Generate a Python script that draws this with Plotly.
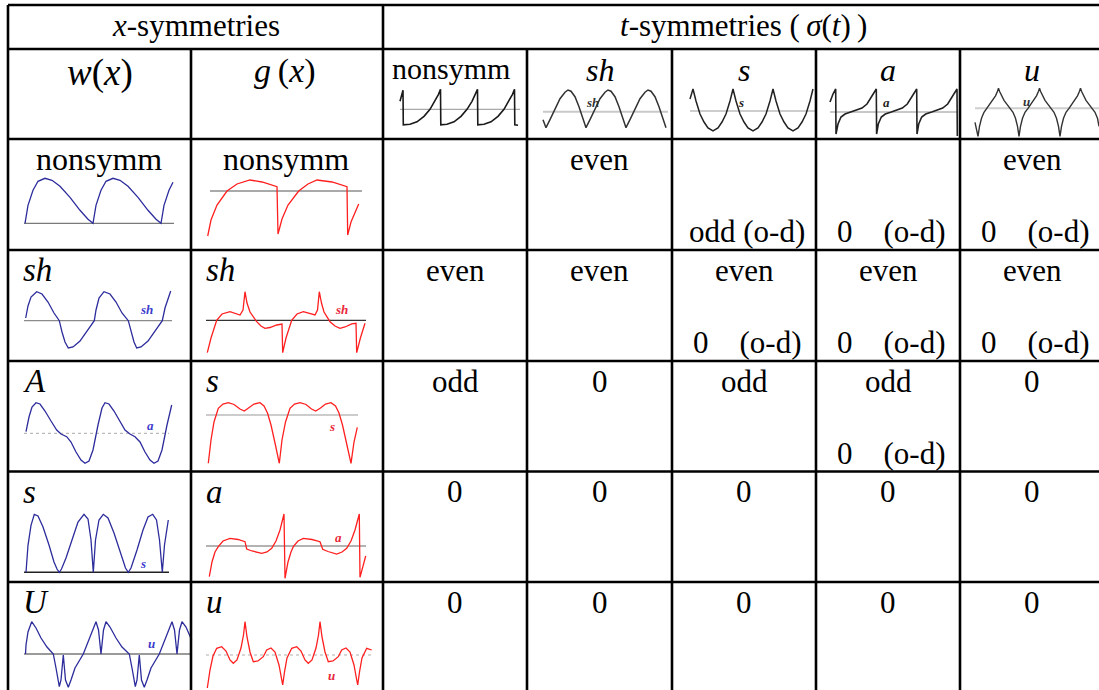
import plotly.graph_objects as go

W_PX, H_PX = 1099, 690
FONT = "Liberation Serif, Times New Roman, serif"

# ---------------- table text ----------------
X_HEAD = "<i>x</i>-symmetries"
T_HEAD = "<i>t</i>-symmetries (\u2009<i>σ</i>(<i>t</i>)\u2009)"
W_HEAD = "<i>w</i>(<i>x</i>)"
G_HEAD = "<i>g</i>\u2009(<i>x</i>)"
T_COLS = ["nonsymm", "<i>sh</i>", "<i>s</i>", "<i>a</i>", "<i>u</i>"]
W_ROWS = ["nonsymm", "<i>sh</i>", "<i>A</i>", "<i>s</i>", "<i>U</i>"]
G_ROWS = ["nonsymm", "<i>sh</i>", "<i>s</i>", "<i>a</i>", "<i>u</i>"]
OD = "0\u00a0\u00a0\u00a0\u00a0(o-d)"
CELL_TOP = [
    ["", "even", "", "", "even"],
    ["even", "even", "even", "even", "even"],
    ["odd", "0", "odd", "odd", "0"],
    ["0", "0", "0", "0", "0"],
    ["0", "0", "0", "0", "0"],
]
CELL_BOTTOM = [
    ["", "", "odd (o-d)", OD, OD],
    ["", "", OD, OD, OD],
    ["", "", "", OD, ""],
    ["", "", "", "", ""],
    ["", "", "", "", ""],
]

# ---------------- waveform sketches (x, y) ----------------
HDR_NONSYMM = [(0, 8), (3, 19), (3.3, -15.5), (4, -15.5), (10, -15), (17, -12.5), (24, -7), (30, 0), (35, 8),
               (38.5, 15), (40.5, 20), (40.8, -15.5), (47, -15), (54, -12.5), (61, -7), (67, 0), (72, 8),
               (75.5, 15), (77.5, 20), (77.8, -15.5), (84, -15), (91, -12.5), (98, -7), (104, 0), (109, 8),
               (112.5, 15), (114.5, 20), (114.8, -15.5), (118, -16)]
HDR_SH = [(0, -8), (3, -16), (7, -8), (12, 3), (17, 13), (22, 19.5), (25, 21.7), (28, 20.5), (32, 15), (36, 5),
          (39.5, -6), (43, -16), (47, -8), (52, 3), (57, 13), (62, 19.5), (65, 21.7), (68, 20.5), (72, 15),
          (76, 5), (79.5, -6), (83, -16), (87, -8), (92, 3), (97, 13), (102, 19.5), (105, 21.7), (108, 20.5),
          (112, 15), (116, 5), (119.5, -6), (123, -16)]
HDR_S = [(0, 12), (3, 22), (6, 10), (10, -3), (14, -11), (18, -17), (23, -20), (28, -17), (32, -11), (36, -3),
         (40, 10), (43, 22), (46, 10), (50, -3), (54, -11), (58, -17), (63, -20), (68, -17), (72, -11), (76, -3),
         (80, 10), (83, 22), (86, 10), (90, -3), (94, -11), (98, -17), (103, -20), (108, -17), (112, -11),
         (116, -3), (120, 10), (123, 22)]
HDR_A = [(0, 10), (3, 18), (5.7, 23), (6, -22), (8, -12), (11, -5), (15, -2), (21, 0), (27, 2), (32, 4), (37, 8),
         (41, 14), (44, 19), (46.3, 23), (46.6, -22), (48.3, -12), (51.3, -5), (55.3, -2), (61.3, 0), (67.3, 2),
         (72.3, 4), (77.3, 8), (81.3, 14), (84.3, 19), (86.7, 23), (87, -22), (88.7, -12), (91.7, -5),
         (95.7, -2), (101.7, 0), (107.7, 2), (112.7, 4), (117.7, 8), (121.7, 14), (124.7, 19), (127, 23),
         (127.3, -24)]
HDR_U = [(0, -14), (1.5, -20), (3, -28), (4.5, -18), (6.5, -10), (9, -4), (12, 0), (15, 4), (18, 8), (20.5, 12.5),
         (22.5, 17), (23.5, 20), (24.5, 17), (26.5, 12.5), (29, 8), (32, 4), (35, 0), (38, -4), (40.5, -10),
         (42.5, -18), (44, -28), (45.5, -18), (47.5, -10), (50, -4), (53, 0), (56, 4), (59, 8), (61.5, 12.5),
         (63.5, 17), (64.5, 20), (65.5, 17), (67.5, 12.5), (70, 8), (73, 4), (76, 0), (79, -4), (81.5, -10),
         (83.5, -18), (85, -28), (86.5, -18), (88.5, -10), (91, -4), (94, 0), (97, 4), (100, 8), (102.5, 12.5),
         (104.5, 17), (105.5, 20), (106.5, 17), (108.5, 12.5), (111, 8), (114, 4), (117, 0), (120, -4),
         (122.5, -10), (124, -18)]

W_NONSYMM = [(1, 0), (4, 18), (9, 33), (14, 42), (21, 45), (28, 43), (36, 37), (46, 26), (56, 13), (64, 4), (69, 0),
             (72, 18), (77, 33), (82, 42), (89, 45), (96, 43), (104, 37), (114, 26), (124, 13), (132, 4), (137, 0),
             (140, 18), (145, 33), (149, 41)]
G_NONSYMM = [(1.7, -45), (5, -29), (11, -14), (21, 0), (31, 7), (44, 11), (56, 9), (71, 4.3), (72, -43),
             (76, -28), (82, -14), (92.7, 0), (102, 7), (111, 11), (126, 9), (141, 4.3), (141.7, -44),
             (145, -31), (152.7, -13)]
W_SH = [(1.7, 2.7), (4, 14.7), (7, 23.7), (12.7, 29), (18, 26.7), (24, 18.7), (30, 7.7), (35.3, 0), (38, -11.3),
        (41, -21.3), (44.3, -27.3), (49, -26.3), (56, -20.3), (63, -10.3), (70.3, 0), (72, 10.7), (75, 22.7),
        (80, 29), (86, 26.7), (92, 18.7), (98, 7.7), (104.3, 0), (107, -11.3), (110, -21.3), (112.7, -27.3),
        (117, -26.3), (124, -20.3), (131, -10.3), (138.3, 0), (141, 12.7), (144, 22.7), (146.7, 29.7)]
G_SH = [(1.3, -32.4), (5, -17.7), (10.7, 0), (16, 6.3), (24, 8.6), (30, 6.8), (34, 5.3), (37, 10.3), (39, 28.6),
        (41, 17.3), (44, 8.3), (50.7, -1.4), (55, -5.7), (59, -8), (64, -7.2), (70.7, -4.7), (76, -3.7),
        (76.7, -32.4), (80, -17.7), (85.7, 0), (91, 6.3), (97.3, 8.6), (104, 6.8), (109, 5.3), (111.5, 10.3),
        (113.3, 28.6), (115.5, 17.3), (118, 8.3), (124, -1.4), (129, -5.7), (134, -8), (139, -6.7),
        (145.7, -3.5), (150, -3), (150.7, -32.4), (154.4, -17.7), (159, -3)]
W_A = [(2, 1.6), (5, 16.3), (8, 26.3), (12, 30.6), (16, 29.3), (21, 22.3), (27, 12.3), (32.7, 3.3), (37, -0.7),
       (42.7, -3.4), (47, -8.7), (52, -18.7), (57, -26.7), (61, -30), (65, -27.7), (69, -16.7), (74, 8.3),
       (78, 25.3), (81, 30.6), (85, 29.3), (90, 22.3), (96, 12.3), (101, 3.3), (106, -0.7), (111, -3.4),
       (116, -8.7), (121, -18.7), (126, -26.7), (130, -30), (134, -27.7), (138, -16.7), (143, 8.3),
       (147.7, 28.3)]
G_S = [(2.3, -48.3), (5, -25), (8, -7), (12.3, 6.7), (17, 11), (22.3, 12.3), (28, 10.5), (34, 6), (38.3, 4),
       (43, 7), (48, 11), (54, 12.3), (58, 9), (61.5, 2), (65, -10), (69, -28), (73.3, -48.3), (76, -25),
       (79.5, -7), (84, 6.7), (88.5, 11), (94, 12.3), (100, 10.5), (105.5, 6), (109.7, 4), (114.5, 7),
       (119.5, 11), (125, 12.3), (129.5, 9), (133, 2), (136.5, -10), (140.5, -28), (145, -48.3), (148, -27),
       (151.3, -12.3)]
W_S = [(2, 0), (4, 27), (7, 47), (10.3, 58), (14, 56.3), (19, 45.3), (25, 27.3), (30, 10.3), (33, 3.3), (35.3, 0),
       (37.5, 3.3), (42, 14.3), (48, 32.3), (54, 50.3), (60, 58), (64, 53.3), (67, 32.3), (69.3, 0), (71.5, 32.3),
       (75, 52.3), (79.3, 58), (84, 54.3), (90, 39.3), (96, 20.3), (101.5, 4.3), (104.3, 0), (107, 4.3),
       (113, 22.3), (119, 42.3), (124, 55.3), (128.7, 58), (132.5, 52.3), (135.5, 32.3), (138.3, 0),
       (140.5, 27.3), (144.3, 52.3)]
G_A = [(3.3, -30.7), (6, -16), (9, -6), (12.3, -0.7), (17, 5), (24, 7.7), (32, 6.5), (39, 4.3), (40.7, -3),
       (46, -5), (55.7, -7.3), (61, -6), (65.7, -2.3), (70, 5), (74, 16), (78, 32), (79, -32.3), (82, -16),
       (85, -6), (87.3, -0.7), (92, 5), (97.3, 7.7), (106, 6.5), (114, 4.3), (116.7, -3.3), (122, -5.5),
       (130.7, -8), (136, -6), (140.7, -2.3), (145, 5), (149, 16), (153.3, 32), (154, -31.3), (156, -24),
       (159.7, -10)]
W_U = [(1.5, 0), (2, 9), (4, 22), (7.7, 32.3), (12, 26), (17, 16), (23, 7), (29.3, 0), (32, -14), (34, -26),
       (35.3, -32.7), (37, -26), (39.3, -1), (41.5, -26), (44.3, -33.3), (47, -26), (51, -14), (59.3, 0),
       (64, 12), (68, 24), (72, 32.3), (74.5, 24), (77, 0), (79.5, 24), (82, 32.3), (86, 27), (92, 16),
       (98, 7), (105.3, 0), (108, -14), (110, -26), (111.3, -32.7), (113, -26), (115.3, -1), (117.5, -26),
       (120.3, -33.3), (123, -26), (127, -14), (135.3, 0), (140, 12), (144, 24), (148, 32.3), (150.5, 24),
       (153, 0), (155.5, 24), (158, 32.3), (162, 27), (167.7, 14)]
G_U = [(1.3, -33), (4, -15), (7, -1), (10.7, 6.7), (15.7, 8.3), (20, 4), (24, -5), (27.3, -8.3), (31, -5), (35, 7),
       (37.5, 20), (39, 33.3), (41, 18), (44, 3), (47.3, -6.7), (52, -6), (57.3, -1.7), (60.7, 5), (65, 7),
       (69, 3), (73, -10), (75, -21), (76.7, -30), (78.5, -17), (81, -3), (85.7, 6.7), (90.7, 8.3), (95, 4),
       (99, -5), (102.3, -8.3), (106, -5), (110, 7), (112.5, 20), (114, 33.3), (116, 18), (119, 3),
       (122.3, -6.7), (127, -6), (132.3, -1.7), (135.7, 5), (140, 7), (144, 3), (148, -10), (150, -21),
       (151.7, -30), (153.5, -17), (156, -3), (160.7, 6.7), (165.7, 5)]

# ---------------- geometry / styles ----------------
COL_X = [8, 191, 383, 527, 672, 816, 960, 1104]
ROW_Y = [5, 49, 139, 250, 361, 471.5, 582, 700]
BLUE, RED, INK = "#2c2c9c", "#ff1f1f", "#1a1a1a"
BLUE_LBL, RED_LBL = "#3d3dcc", "#e8283a"

THUMBS = [
    (HDR_NONSYMM, 400, 109.3, (-1, 121), (-18, 22), INK, 1.6, (0, 120), "#a8a8a8", "solid", 1.3, None, None, None),
    (HDR_SH, 543, 111.7, (-1, 126), (-18, 24), "#333", 1.5, (0, 125), "#c8c8c8", "solid", 2, "sh", (49, 9.7), "#333"),
    (HDR_S, 690, 111, (-1, 126), (-22, 24), "#222", 1.5, (0, 125), "#bdbdbd", "solid", 1.3, "s", (51, 8), "#222"),
    (HDR_A, 830, 112, (-1, 129), (-26, 25), "#222", 1.6, (0, 128), "#c8c8c8", "solid", 2, "a", (56, 9), "#222"),
    (HDR_U, 975, 108.3, (-1, 124), (-30, 22), "#333", 1.4, (0, 124), "#cfcfcf", "solid", 2, "u", (51, 7.3), "#333"),
    (W_NONSYMM, 24, 223.3, (-2, 152), (-3, 48), BLUE, 1.3, (0, 150), "#7a7a7a", "solid", 1.2, None, None, None),
    (G_NONSYMM, 206, 191, (-2, 160), (-48, 14), RED, 1.3, (4, 156), "#555555", "solid", 1.0, None, None, None),
    (W_SH, 24, 320.7, (-2, 151), (-30, 32), BLUE, 1.3, (0, 148), "#8a8a8a", "solid", 1.2, "sh", (122.7, 10.7), BLUE_LBL),
    (G_SH, 206, 320.3, (-2, 162), (-35, 31), RED, 1.3, (0, 160), "#333333", "solid", 1.2, "sh", (135.7, 10.3), RED_LBL),
    (W_A, 24, 433.3, (-2, 152), (-33, 33), BLUE, 1.3, (0, 145), "#bbbbbb", "dot", 1.2, "a", (126, 8.3), BLUE_LBL),
    (G_S, 206, 415, (-2, 157), (-51, 15), RED, 1.3, (0, 152), "#9a9a9a", "solid", 1.2, "s", (125.7, -11.7), RED_LBL),
    (W_S, 24, 572.3, (-2, 148), (-3, 61), BLUE, 1.3, (0, 145), "#222222", "solid", 1.5, "s", (119.3, 9), BLUE_LBL),
    (G_A, 206, 546, (-2, 162), (-35, 35), RED, 1.3, (0, 160), "#666666", "solid", 1.0, "a", (132.3, 8.7), RED_LBL),
    (W_U, 24, 654, (-2, 169), (-36, 35), BLUE, 1.3, (0, 167), "#9a9a9a", "solid", 2.2, "u", (127.7, 11), BLUE_LBL),
    (G_U, 206, 655, (-2, 168), (-35, 36), RED, 1.3, (0, 166), "#b0b0b0", "dot", 1.2, "u", (125.7, -20), RED_LBL),
]

fig = go.Figure()
layout_axes = {}
annotations = []
shapes = []


def px(x):
    return x / W_PX


def py(y):
    return 1 - y / H_PX


for k, (pts, x0, ay, xr, yr, col, lw, bspan, bcol, bdash, bw, lbl, lpos, lcol) in enumerate(THUMBS, start=2):
    xs, ys = zip(*pts)
    xa, ya = f"x{k}", f"y{k}"
    layout_axes[f"xaxis{k}"] = dict(domain=[max(0, px(x0 + xr[0])), min(1, px(x0 + xr[1]))], range=list(xr),
                                    visible=False, anchor=ya, fixedrange=True)
    layout_axes[f"yaxis{k}"] = dict(domain=[max(0, py(ay - yr[0])), min(1, py(ay - yr[1]))], range=list(yr),
                                    visible=False, anchor=xa, fixedrange=True)
    fig.add_trace(go.Scatter(x=list(bspan), y=[0, 0], mode="lines", xaxis=xa, yaxis=ya,
                             line=dict(color=bcol, width=bw, dash=bdash), hoverinfo="skip", showlegend=False))
    fig.add_trace(go.Scatter(x=list(xs), y=list(ys), mode="lines", xaxis=xa, yaxis=ya,
                             line=dict(color=col, width=lw), hoverinfo="skip", showlegend=False))
    if lbl:
        annotations.append(dict(x=lpos[0], y=lpos[1], xref=xa, yref=ya, text=f"<b><i>{lbl}</i></b>",
                                showarrow=False, font=dict(family=FONT, size=13, color=lcol)))

# ---- grid lines ----
LW = 2.6
top, hdr1 = ROW_Y[0], ROW_Y[1]
for y in ROW_Y[:7]:
    shapes.append(dict(type="line", xref="paper", yref="paper", x0=px(COL_X[0]), x1=1, y0=py(y), y1=py(y),
                       line=dict(color="black", width=LW)))
for i, x in enumerate(COL_X[:7]):
    y_start = top if i in (0, 2) else hdr1
    shapes.append(dict(type="line", xref="paper", yref="paper", x0=px(x), x1=px(x), y0=py(y_start), y1=0,
                       line=dict(color="black", width=LW)))


def text(x, y, s, size=31, anchor="center"):
    annotations.append(dict(x=px(x), y=py(y), xref="paper", yref="paper", text=s, showarrow=False,
                            xanchor=anchor, yanchor="middle", font=dict(family=FONT, size=size, color="black")))


# header texts
text((COL_X[0] + COL_X[2]) / 2, 25, X_HEAD, 31)
text((COL_X[2] + COL_X[7]) / 2, 25, T_HEAD, 31)
text((COL_X[0] + COL_X[1]) / 2, 73, W_HEAD, 37)
text((COL_X[1] + COL_X[2]) / 2 - 2, 71, G_HEAD, 34)
for j, s in enumerate(T_COLS):
    cx = (COL_X[j + 2] + COL_X[j + 3]) / 2
    if j == 0:
        text(COL_X[2] + 7, 69, s, 30, "left")
    else:
        text(cx, 70, s, 32)

# row labels and cells
for i in range(5):
    rt = ROW_Y[i + 2]
    for lab, ci in ((W_ROWS[i], 0), (G_ROWS[i], 1)):
        if lab == "nonsymm":
            text((COL_X[ci] + COL_X[ci + 1]) / 2 - 1, rt + 20, lab, 32)
        else:
            text(COL_X[ci] + 13, rt + 20, lab, 33, "left")
    for j in range(5):
        cx = (COL_X[j + 2] + COL_X[j + 3]) / 2
        if CELL_TOP[i][j]:
            text(cx, rt + 20, CELL_TOP[i][j], 31)
        if CELL_BOTTOM[i][j]:
            text(cx + 3, rt + 92, CELL_BOTTOM[i][j], 31)

fig.update_layout(width=W_PX, height=H_PX, margin=dict(l=0, r=0, t=0, b=0), paper_bgcolor="white",
                  plot_bgcolor="white", showlegend=False, annotations=annotations, shapes=shapes,
                  xaxis=dict(visible=False, domain=[0, 0.001]), yaxis=dict(visible=False, domain=[0, 0.001]),
                  **layout_axes)
fig.write_html("out.html", config={"displayModeBar": False, "staticPlot": True},
               post_script="document.body.style.margin='0';document.body.style.overflow='hidden';")
